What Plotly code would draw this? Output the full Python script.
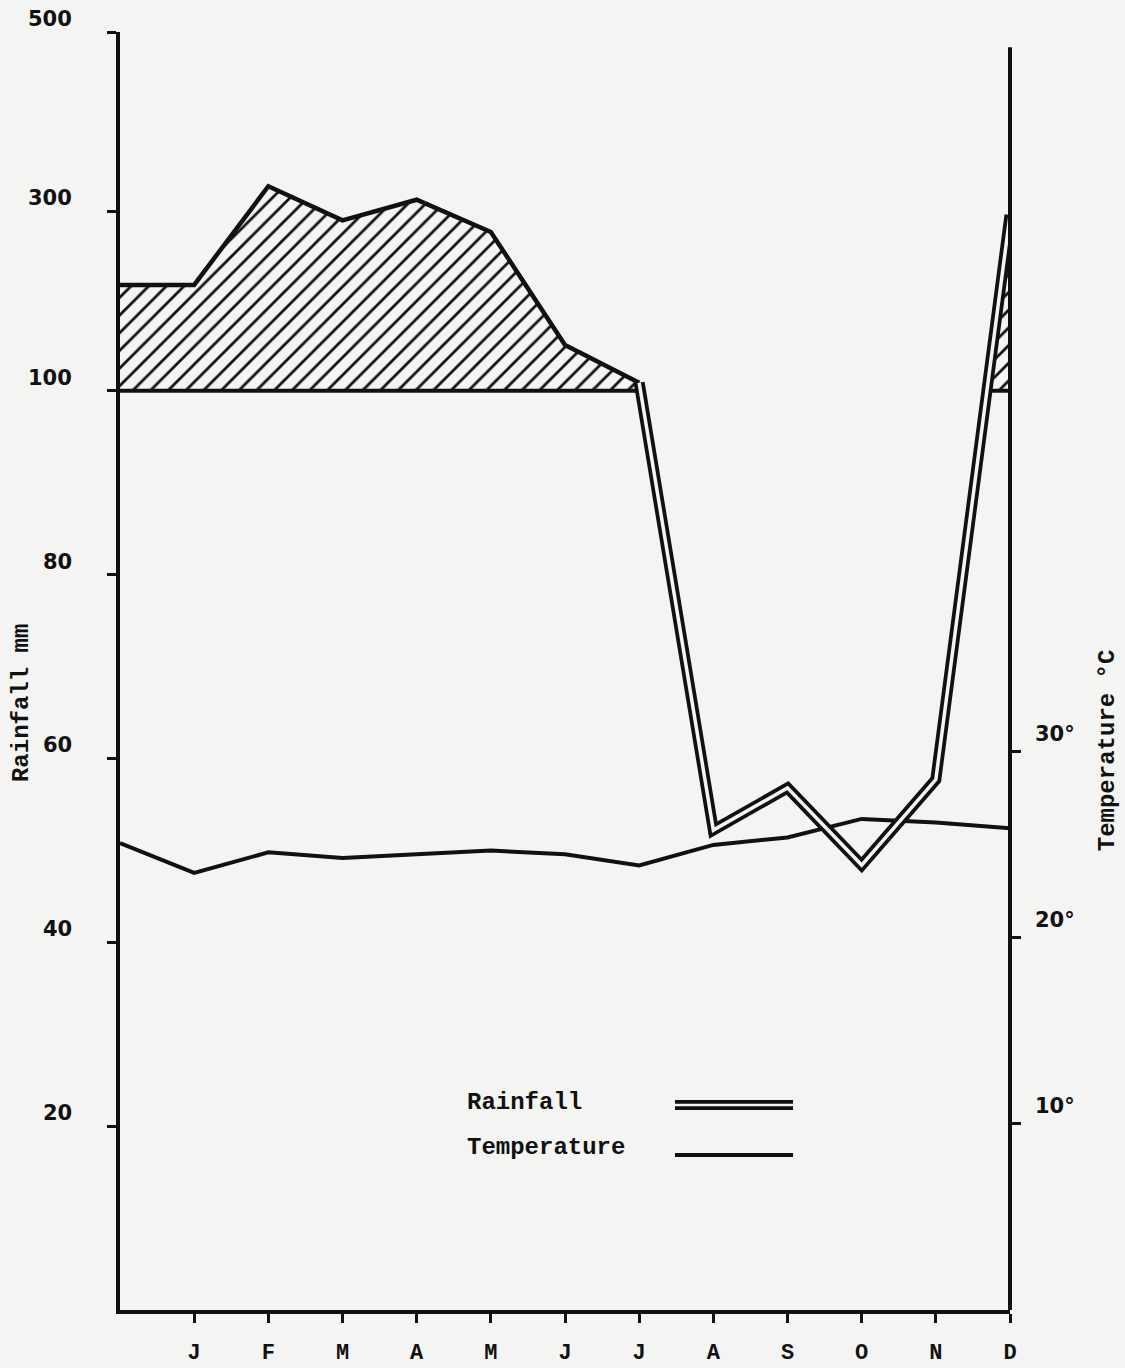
import plotly.graph_objects as go

# ---------------- data ----------------
month_labels = ["J", "F", "M", "A", "M", "J", "J", "A", "S", "O", "N", "D"]
month_pos = [0, 1, 2, 3, 4, 5, 6, 7, 8, 9, 10, 11, 12]          # 0 = left edge of the diagram
rain_mm = [218, 218, 328, 290, 313, 277, 151, 109, 52.2, 56.8, 48.4, 57.7, 296]
temp_c = [25.1, 23.5, 24.6, 24.3, 24.5, 24.7, 24.5, 23.9, 25.0, 25.4, 26.4, 26.2, 25.9]
rain_tick_vals = [20, 40, 60, 80, 100, 300, 500]
rain_tick_text = ["20", "40", "60", "80", "100", "300", "500"]
temp_tick_vals = [10, 20, 30]
temp_tick_text = ["10°", "20°", "30°"]

# ---------------- scale (Walter-Lieth: above 100 mm reduced 1:10) ----------------
COMPRESS = 10.25
def rp(v):
    return v if v <= 100 else 100 + (v - 100) / COMPRESS

RAIN_TOP = rp(500)
TEMP_TOP = 68.7

BG = "#f4f4f2"
INK = "#111111"
MONO = "Liberation Mono"
SANS = "DejaVu Sans"

rain_p = [rp(v) for v in rain_mm]
wet_end = 7  # index of July where the humid (hatched) period ends

hatch = dict(shape="/", fgcolor=INK, bgcolor="rgba(0,0,0,0)", fgopacity=1,
             size=12.5, solidity=0.22)

fig = go.Figure()

# temperature (base axis, right side)
fig.add_trace(go.Scatter(x=month_pos, y=temp_c, mode="lines",
                         line=dict(color=INK, width=4), yaxis="y",
                         hoverinfo="skip", showlegend=False))

# 100 mm baseline of the humid period, then hatched area to the rainfall line
fig.add_trace(go.Scatter(x=[month_pos[0], month_pos[wet_end]], y=[100, 100], mode="lines",
                         line=dict(color=INK, width=4), yaxis="y2", showlegend=False))
fig.add_trace(go.Scatter(x=month_pos[:wet_end + 1], y=rain_p[:wet_end + 1], mode="lines",
                         line=dict(color=INK, width=4.5), yaxis="y2", showlegend=False,
                         fill="tonexty", fillcolor="rgba(0,0,0,0)", fillpattern=hatch))

# December humid wedge (from crossing of 100 mm to December)
pN, pD = rain_p[11], rain_p[12]
xc = month_pos[11] + (100 - pN) / (pD - pN) * (month_pos[12] - month_pos[11])
fig.add_trace(go.Scatter(x=[xc, month_pos[12]], y=[100, 100], mode="lines",
                         line=dict(color=INK, width=4), yaxis="y2", showlegend=False))
fig.add_trace(go.Scatter(x=[xc, month_pos[12]], y=[100, pD], mode="lines",
                         line=dict(color=INK, width=1), yaxis="y2", showlegend=False,
                         fill="tonexty", fillcolor="rgba(0,0,0,0)", fillpattern=hatch))

# dry-season rainfall as double line
fig.add_trace(go.Scatter(x=month_pos[wet_end:], y=rain_p[wet_end:], mode="lines",
                         line=dict(color=INK, width=11), yaxis="y2", showlegend=False))
fig.add_trace(go.Scatter(x=month_pos[wet_end:], y=rain_p[wet_end:], mode="lines",
                         line=dict(color=BG, width=3.5), yaxis="y2", showlegend=False))

annotations = []
# left tick labels (rainfall)
for v, t in zip(rain_tick_vals, rain_tick_text):
    annotations.append(dict(x=-0.052, xref="paper", y=rp(v), yref="y2", text=t,
                            xanchor="right", yanchor="middle", yshift=13, showarrow=False,
                            font=dict(family=SANS, size=21, color=INK, weight="bold")))
# right tick labels (temperature)
for v, t in zip(temp_tick_vals, temp_tick_text):
    annotations.append(dict(x=1.026, xref="paper", y=v, yref="y", text=t,
                            xanchor="left", yanchor="middle", yshift=18, showarrow=False,
                            font=dict(family=SANS, size=21, color=INK, weight="bold")))
# axis titles
annotations.append(dict(x=-0.110, xref="paper", y=0.475, yref="paper", text="Rainfall mm",
                        textangle=-90, showarrow=False, xanchor="center", yanchor="middle",
                        font=dict(family=MONO, size=24, color=INK, weight="bold")))
annotations.append(dict(x=1.109, xref="paper", y=0.438, yref="paper", text="Temperature °C",
                        textangle=-90, showarrow=False, xanchor="center", yanchor="middle",
                        font=dict(family=MONO, size=24, color=INK, weight="bold")))
# legend
annotations.append(dict(x=0.3876, xref="paper", y=0.162, yref="paper", text="Rainfall",
                        xanchor="left", yanchor="middle", showarrow=False,
                        font=dict(family=MONO, size=24, color=INK, weight="bold")))
annotations.append(dict(x=0.3876, xref="paper", y=0.1275, yref="paper", text="Temperature",
                        xanchor="left", yanchor="middle", showarrow=False,
                        font=dict(family=MONO, size=24, color=INK, weight="bold")))

shapes = [
    # right-hand (temperature) axis line, starting a little below the top
    dict(type="line", xref="paper", yref="paper", x0=1, x1=1, y0=0, y1=0.988,
         line=dict(color=INK, width=4)),
    # legend samples
    dict(type="line", xref="paper", yref="paper", x0=0.6236, x1=0.7562, y0=0.1604, y1=0.1604,
         line=dict(color=INK, width=10)),
    dict(type="line", xref="paper", yref="paper", x0=0.6236, x1=0.7562, y0=0.1604, y1=0.1604,
         line=dict(color=BG, width=2.5)),
    dict(type="line", xref="paper", yref="paper", x0=0.6236, x1=0.7562, y0=0.1213, y1=0.1213,
         line=dict(color=INK, width=4)),
]

fig.update_layout(
    width=1125, height=1368,
    margin=dict(l=120, r=115, t=32, b=58, autoexpand=False),
    paper_bgcolor=BG, plot_bgcolor=BG,
    showlegend=False,
    xaxis=dict(range=[0, 12], showgrid=False, zeroline=False, automargin=False,
               showline=True, linecolor=INK, linewidth=4,
               tickmode="array", tickvals=month_pos[1:], ticktext=month_labels,
               ticks="outside", ticklen=9, tickwidth=3, tickcolor=INK,
               ticklabelstandoff=10,
               tickfont=dict(family=MONO, size=22, color=INK, weight="bold")),
    yaxis=dict(range=[0, TEMP_TOP], side="right", showgrid=False, zeroline=False,
               automargin=False, showline=False,
               tickmode="array", tickvals=temp_tick_vals,
               ticks="outside", ticklen=10, tickwidth=3, tickcolor=INK,
               showticklabels=False),
    yaxis2=dict(range=[0, RAIN_TOP], overlaying="y", side="left", showgrid=False,
                automargin=False,
                zeroline=False, showline=True, linecolor=INK, linewidth=4,
                tickmode="array", tickvals=[rp(v) for v in rain_tick_vals],
                ticks="outside", ticklen=9, tickwidth=3, tickcolor=INK,
                showticklabels=False),
    annotations=annotations,
    shapes=shapes,
)

fig.write_html("out.html")
